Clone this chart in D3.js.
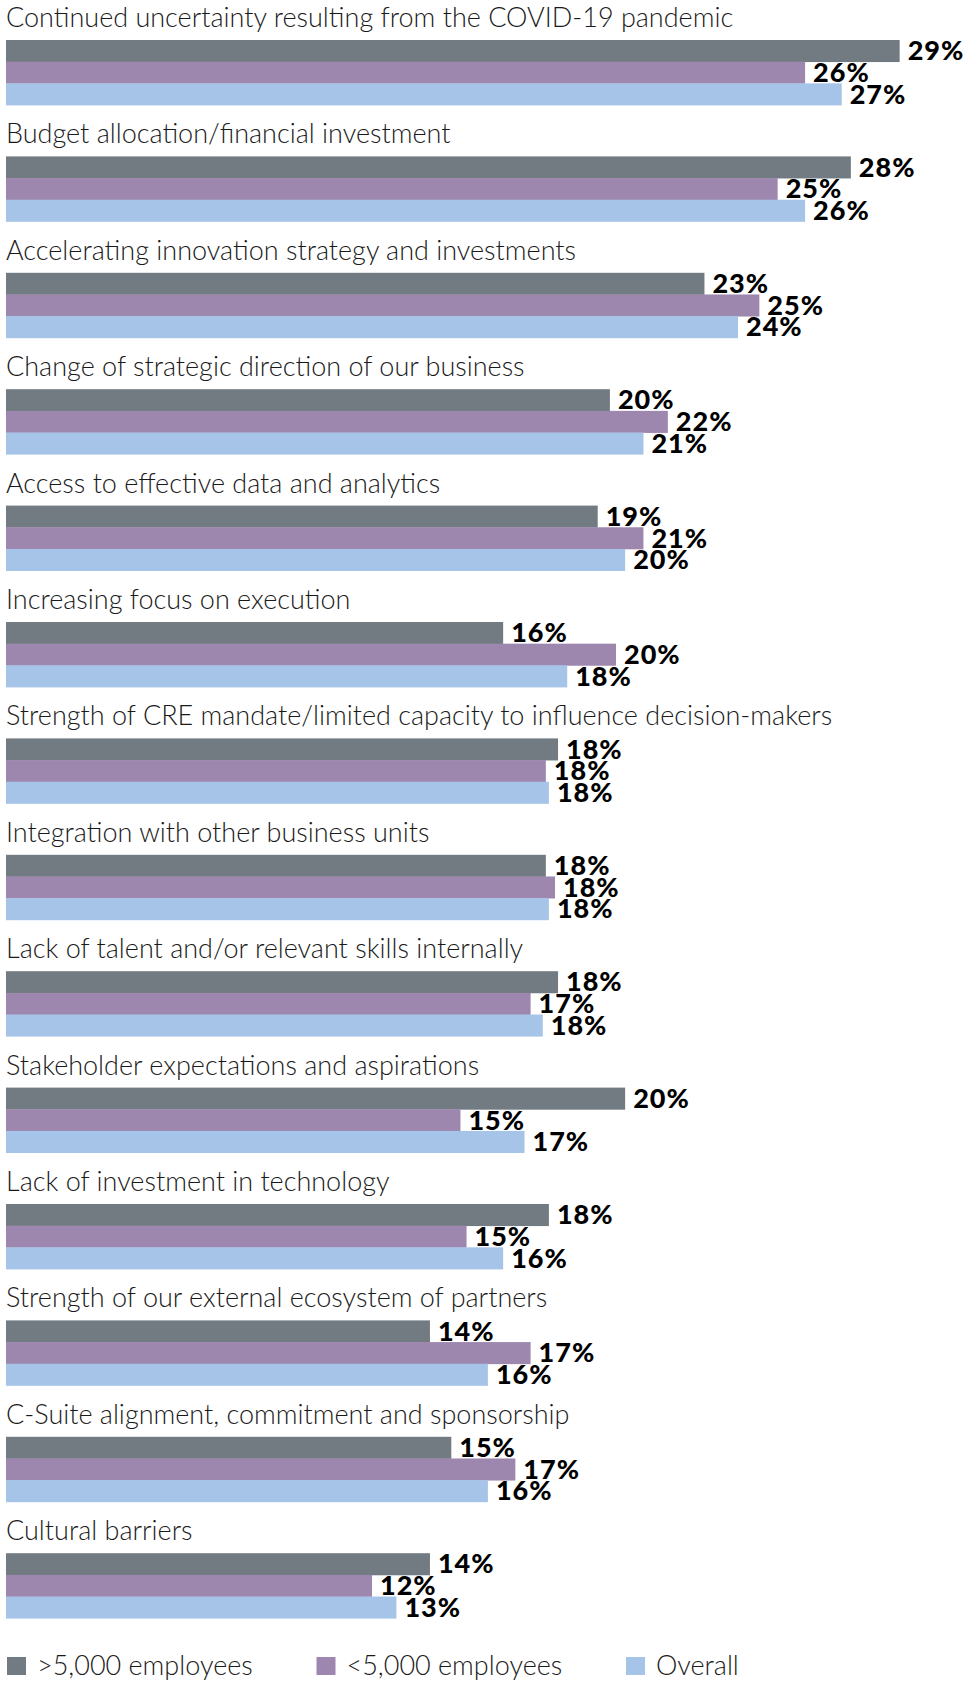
<!DOCTYPE html>
<html>
<head>
<meta charset="utf-8">
<script src="https://cdn.jsdelivr.net/npm/d3@7"></script>
<style>
  html, body { margin: 0; padding: 0; background: #ffffff; }
  svg { display: block; }
</style>
</head>
<body>
<div id="chart"></div>
<script>
// ---- Data ----
const categories = [
  "Continued uncertainty resulting from the COVID-19 pandemic",
  "Budget allocation/financial investment",
  "Accelerating innovation strategy and investments",
  "Change of strategic direction of our business",
  "Access to effective data and analytics",
  "Increasing focus on execution",
  "Strength of CRE mandate/limited capacity to influence decision-makers",
  "Integration with other business units",
  "Lack of talent and/or relevant skills internally",
  "Stakeholder expectations and aspirations",
  "Lack of investment in technology",
  "Strength of our external ecosystem of partners",
  "C-Suite alignment, commitment and sponsorship",
  "Cultural barriers"
];
const seriesNames = [">5,000 employees", "<5,000 employees", "Overall"];
// bar lengths (percent)
const largeCompanies = [29.3, 27.7, 22.9, 19.8, 19.4, 16.3, 18.1, 17.7, 18.1, 20.3, 17.8, 13.9, 14.6, 13.9];
const smallCompanies = [26.2, 25.3, 24.7, 21.7, 20.9, 20.0, 17.7, 18.0, 17.2, 14.9, 15.1, 17.2, 16.7, 12.0];
const overall        = [27.4, 26.2, 24.0, 20.9, 20.3, 18.4, 17.8, 17.8, 17.6, 17.0, 16.3, 15.8, 15.8, 12.8];
// labels printed on the chart
const largeLabels = [29, 28, 23, 20, 19, 16, 18, 18, 18, 20, 18, 14, 15, 14];
const smallLabels = [26, 25, 25, 22, 21, 20, 18, 18, 17, 15, 15, 17, 17, 12];
const overallLabels = [27, 26, 24, 21, 20, 18, 18, 18, 18, 17, 16, 16, 16, 13];
const colors = ["#717b81", "#9e87af", "#a6c4e7"];

// ---- Layout ----
const W = 966, H = 1681;
const FONT = "'Source Sans Pro', Lato, 'Noto Sans', sans-serif";

const seriesValues = [largeCompanies, smallCompanies, overall];
const seriesLabels = [largeLabels, smallLabels, overallLabels];

const rows = [];
categories.forEach((c, i) => {
  seriesNames.forEach((s, j) => {
    rows.push({ cat: c, series: s, value: seriesValues[j][i], label: seriesLabels[j][i], color: colors[j] });
  });
});

const svg = d3.select("#chart").append("svg")
  .attr("width", W).attr("height", H)
  .attr("viewBox", `0 0 ${W} ${H}`);

svg.append("rect").attr("width", W).attr("height", H).attr("fill", "#ffffff");

const x = d3.scaleLinear().domain([0, 30]).range([6, 921]);
const y0 = d3.scaleBand().domain(categories).range([40, 1618.2]).paddingInner(0.4416).paddingOuter(0);
const y1 = d3.scaleBand().domain(seriesNames).range([0, y0.bandwidth()]);

// category labels
svg.append("g").selectAll("text")
  .data(categories).join("text")
  .attr("x", 6)
  .attr("y", d => y0(d) - 13)
  .attr("font-family", FONT)
  .attr("font-weight", 300)
  .attr("font-size", 27)
  .attr("fill", "#1a1a1a")
  .text(d => d);

// bars
svg.append("g").selectAll("rect")
  .data(rows).join("rect")
  .attr("x", x(0))
  .attr("y", d => y0(d.cat) + y1(d.series))
  .attr("width", d => x(d.value) - x(0))
  .attr("height", y1.bandwidth() + 0.4)
  .attr("fill", d => d.color);

// value labels
svg.append("g").selectAll("text")
  .data(rows).join("text")
  .attr("x", d => x(d.value) + 8)
  .attr("y", d => y0(d.cat) + y1(d.series) + y1.bandwidth() / 2)
  .attr("dy", "0.35em")
  .attr("font-family", FONT)
  .attr("font-weight", 900)
  .attr("font-size", 27)
  .attr("letter-spacing", 1)
  .attr("fill", "#000000")
  .text(d => d.label + "%");

// legend
const legend = svg.append("g").attr("transform", "translate(7,1657)");
const items = legend.selectAll("g").data(seriesNames).join("g")
  .attr("transform", (d, i) => `translate(${i * 309.5},0)`);
items.append("rect")
  .attr("width", 19).attr("height", 18)
  .attr("fill", (d, i) => colors[i]);
items.append("text")
  .attr("x", 30).attr("y", 18)
  .attr("font-family", FONT)
  .attr("font-weight", 300)
  .attr("font-size", 27)
  .attr("fill", "#1a1a1a")
  .text(d => d);
</script>
</body>
</html>
